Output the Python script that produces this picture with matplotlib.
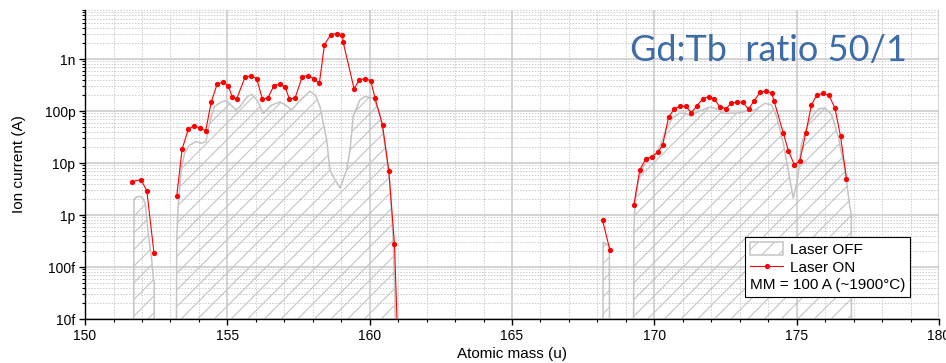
import numpy as np
import matplotlib.pyplot as plt
from matplotlib.ticker import FixedLocator, LogLocator, MultipleLocator, NullFormatter

plt.rcParams['font.family'] = ['Liberation Sans', 'DejaVu Sans']
plt.rcParams['hatch.linewidth'] = 0.8

FLOOR = 1e-16  # below the axis, used to close the hatched areas

# Laser ON scan, NaN separates the bursts
on_mass = [151.66, 151.96, 152.17, 152.42, np.nan,
           153.22, 153.41, 153.63, 153.83, 154.04, 154.24, 154.43, 154.64, 154.84, 155.03,
           155.17, 155.33, 155.62, 155.84, 156.03, 156.23, 156.42, 156.64, 156.84, 157.03,
           157.18, 157.38, 157.63, 157.84, 158.04, 158.23, 158.41, 158.63, 158.84, 159.04,
           159.07, 159.45, 159.64, 159.85, 160.04, 160.19, 160.45, 160.67, 160.87, 161.02, np.nan,
           168.18, 168.44, np.nan,
           169.28, 169.49, 169.70, 169.90, 170.12, 170.29, 170.50, 170.70, 170.90, 171.11,
           171.30, 171.50, 171.71, 171.92, 172.10, 172.30, 172.52, 172.71, 172.91, 173.10,
           173.31, 173.51, 173.71, 173.92, 174.12, 174.21, 174.53, 174.71, 174.92, 175.11,
           175.32, 175.52, 175.70, 175.91, 176.13, 176.34, 176.54, 176.75]
on_current = [4.4e-12, 4.8e-12, 2.95e-12, 1.9e-13, np.nan,
              2.3e-12, 1.86e-11, 4.5e-11, 5.2e-11, 4.7e-11, 4.2e-11, 1.47e-10, 3.3e-10, 3.6e-10, 3.1e-10,
              1.85e-10, 1.73e-10, 4.5e-10, 4.8e-10, 4.2e-10, 1.7e-10, 1.8e-10, 3.1e-10, 3.3e-10, 2.9e-10,
              1.7e-10, 1.8e-10, 4.6e-10, 4.8e-10, 4.2e-10, 3.4e-10, 1.88e-9, 2.97e-9, 3.1e-9, 2.9e-9,
              2.1e-9, 2.7e-10, 4.0e-10, 4.2e-10, 3.8e-10, 1.75e-10, 5.4e-11, 7.1e-12, 2.8e-13, 1e-15, np.nan,
              7.9e-13, 2.1e-13, np.nan,
              1.58e-12, 7.4e-12, 1.2e-11, 1.32e-11, 1.6e-11, 2.2e-11, 7.6e-11, 1.1e-10, 1.25e-10, 1.23e-10,
              9.3e-11, 1.28e-10, 1.73e-10, 1.9e-10, 1.73e-10, 1.2e-10, 1.12e-10, 1.42e-10, 1.49e-10, 1.47e-10,
              1.1e-10, 1.58e-10, 2.28e-10, 2.46e-10, 2.22e-10, 1.53e-10, 3.77e-11, 1.73e-11, 9.2e-12, 1.1e-11,
              3.8e-11, 1.31e-10, 2.03e-10, 2.18e-10, 2.0e-10, 1.17e-10, 3.3e-11, 5.0e-12]

# Laser OFF, one list per peak group
off_a_mass = [151.70, 151.72, 151.80, 151.93, 152.03, 152.11, 152.22, 152.34, 152.40, 152.43, 152.44]
off_a_current = [FLOOR, 2.0e-12, 2.2e-12, 2.3e-12, 2.1e-12, 1.7e-12, 4.5e-13, 1.4e-13, 6e-14, 5e-14, FLOOR]

off_b_mass = [153.20, 153.22, 153.27, 153.39, 153.50, 153.67, 153.90, 154.08, 154.25, 154.40, 154.55,
              154.79, 154.96, 155.14, 155.30, 155.45, 155.70, 155.86, 156.05, 156.26, 156.55, 156.85,
              157.05, 157.26, 157.55, 157.90, 158.10, 158.25, 158.49, 158.60, 158.72, 158.96, 159.19,
              159.31, 159.42, 159.66, 159.83, 160.13, 160.36, 160.60, 160.71, 160.83, 160.89, 160.92]
off_b_current = [FLOOR, 3e-13, 1.5e-12, 8.5e-12, 1.55e-11, 2.2e-11, 2.6e-11, 2.4e-11, 2.6e-11, 6.8e-11, 1.23e-10,
                 1.5e-10, 1.58e-10, 1.3e-10, 1.05e-10, 1.23e-10, 1.9e-10, 2.1e-10, 1.6e-10, 9e-11, 1.3e-10, 1.5e-10,
                 1.3e-10, 1.05e-10, 1.6e-10, 2.4e-10, 2.0e-10, 1.23e-10, 2.8e-11, 7.4e-12, 5.5e-12, 3.3e-12, 7.4e-12,
                 1.8e-11, 8e-11, 1.66e-10, 1.9e-10, 1.78e-10, 9e-11, 1.35e-11, 4.2e-12, 2.9e-13, 2.3e-14, FLOOR]

off_c_mass = [168.19, 168.20, 168.30, 168.42, 168.43]
off_c_current = [FLOOR, 3e-13, 2.8e-13, 2.5e-13, FLOOR]

off_d_mass = [169.26, 169.28, 169.32, 169.44, 169.61, 169.84, 170.07, 170.24, 170.41, 170.64, 170.88,
              171.11, 171.29, 171.46, 171.76, 171.99, 172.17, 172.42, 172.90, 173.25, 173.54, 173.88,
              174.12, 174.29, 174.53, 174.70, 174.88, 175.05, 175.17, 175.46, 175.76, 175.99, 176.23,
              176.46, 176.70, 176.85, 176.92, 176.93]
off_d_current = [FLOOR, 5e-13, 1.7e-12, 4.8e-12, 8.5e-12, 1.26e-11, 1.55e-11, 2.4e-11, 4.4e-11, 7.4e-11, 9.1e-11,
                 9.1e-11, 8e-11, 9.3e-11, 1.1e-10, 1.2e-10, 1.1e-10, 9.1e-11, 9.1e-11, 1.0e-10, 1.05e-10, 1.41e-10,
                 1.32e-10, 8e-11, 2.4e-11, 7.4e-12, 2.1e-12, 5.5e-12, 2.4e-11, 6.8e-11, 1.1e-10, 1.15e-10, 8.5e-11,
                 3.2e-11, 7.4e-12, 1.7e-12, 1.0e-12, FLOOR]

off_segments = [(off_a_mass, off_a_current), (off_b_mass, off_b_current),
                (off_c_mass, off_c_current), (off_d_mass, off_d_current)]

y_ticks = [1e-14, 1e-13, 1e-12, 1e-11, 1e-10, 1e-9]
y_tick_labels = ['10f', '100f', '1p', '10p', '100p', '1n']
x_ticks = [150, 155, 160, 165, 170, 175, 180]

fig = plt.figure(figsize=(9.46, 3.63), dpi=100)
ax = fig.add_axes([0.0899, 0.1212, 0.9027, 0.8526])

gray = '#c4c4c4'
off_handle = None
for m, c in off_segments:
    off_handle = ax.fill_between(m, c, FLOOR, facecolor='none', edgecolor=gray,
                                 hatch='//', linewidth=1.1, zorder=2)

on_handle, = ax.plot(on_mass, on_current, color='red', linewidth=0.8, marker='o',
                     markersize=3.8, markeredgewidth=0, zorder=3)

ax.set_yscale('log')
ax.set_xlim(150, 180)
ax.set_ylim(1e-14, 9e-9)

ax.yaxis.set_major_locator(FixedLocator(y_ticks))
ax.set_yticklabels(y_tick_labels)
ax.yaxis.set_minor_locator(LogLocator(base=10, subs=np.arange(2, 10), numticks=20))
ax.yaxis.set_minor_formatter(NullFormatter())
ax.set_xticks(x_ticks)
ax.xaxis.set_minor_locator(MultipleLocator(1))

ax.set_axisbelow(True)
ax.grid(which='major', color='#c8c8c8', linewidth=1.1, linestyle='-')
ax.grid(which='minor', color='#cccccc', linewidth=0.7, linestyle=(0, (1.5, 1.5)))

for s in ['top', 'right']:
    ax.spines[s].set_visible(False)
for s in ['left', 'bottom']:
    ax.spines[s].set_linewidth(1.0)
ax.tick_params(which='major', direction='out', length=4.5, width=1.0, labelsize=10, pad=2.5)
ax.tick_params(which='minor', direction='out', length=2.5, width=0.8)

ax.set_xlabel('Atomic mass (u)', fontsize=11)
ax.xaxis.set_label_coords(0.5, -0.09)
ax.set_ylabel('Ion current (A)', fontsize=11)
ax.yaxis.set_label_coords(-0.069, 0.5)

ax.text(0.962, 0.866, 'Gd:Tb  ratio 50/1', transform=ax.transAxes, ha='right', va='center',
        fontsize=26, color='#3d6ca6', family=['Lato', 'DejaVu Sans'])

leg = ax.legend(handles=[off_handle, on_handle], labels=['Laser OFF', 'Laser ON'],
                title='MM = 100 A (~1900°C)', title_fontsize=11, alignment='left',
                loc='upper left', bbox_to_anchor=(0.773, 0.264), fontsize=11,
                frameon=True, fancybox=False, edgecolor='black', framealpha=1,
                handlelength=2.2, handleheight=0.95, handletextpad=0.45,
                labelspacing=0.22, borderpad=0.3, borderaxespad=0)
leg.get_frame().set_linewidth(0.8)
# put the note line under the entries, as in the original
leg._legend_box._children = leg._legend_box._children[::-1]

fig.savefig('out.png', dpi=100)
